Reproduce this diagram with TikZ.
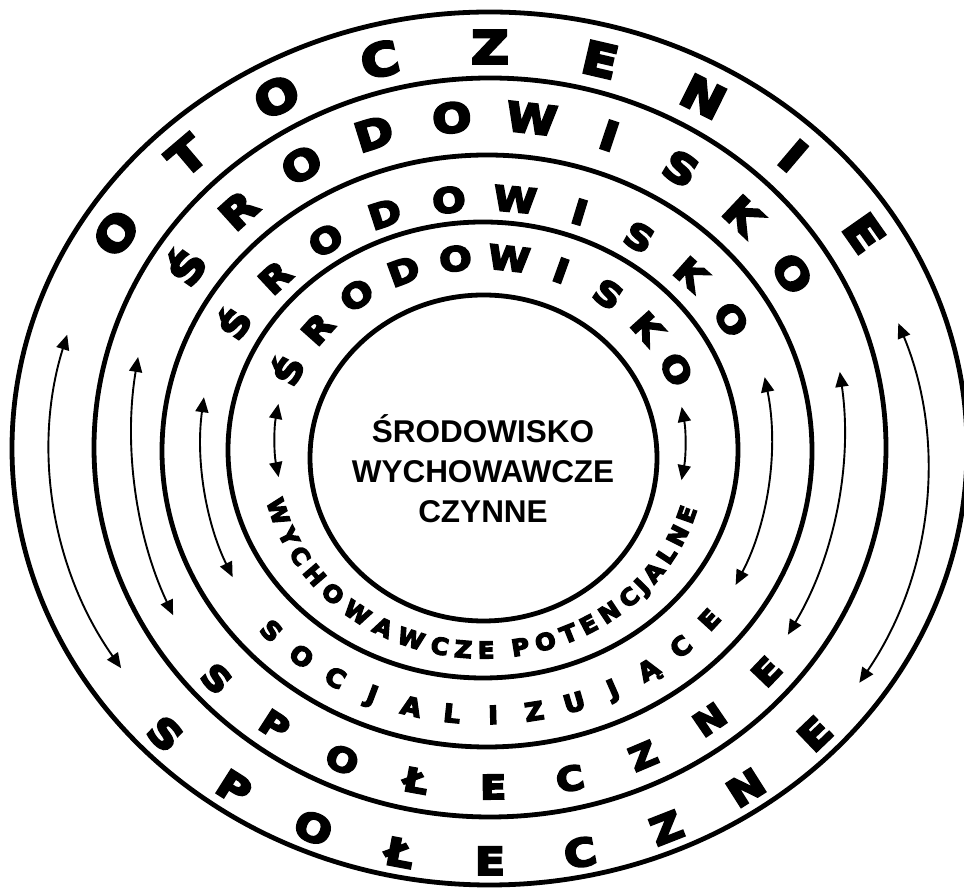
\documentclass[tikz,border=0pt]{standalone}
\usepackage{fontspec}
\setmainfont{Liberation Sans}
\newfontfamily\ringfont{DejaVu Sans Bold}[FakeStretch=1.15,FakeBold=6]
\newfontfamily\ringfontn{DejaVu Sans Bold}[FakeStretch=1.05,FakeBold=6]
\usetikzlibrary{arrows.meta}
\tikzset{
  ring/.style={draw=black, line width=4.8pt},
  flow/.style={draw=black, line width=1.9pt,
    {Triangle[length=15pt,width=13pt]}-{Triangle[length=15pt,width=13pt]}},
  letter/.style={inner sep=0pt, outer sep=0pt, anchor=center},
  core/.style={font=\bfseries\fontsize{31.5}{36}\selectfont, inner sep=0pt, anchor=base},
}
\begin{document}
\begin{tikzpicture}[x=1pt,y=1pt]
\path[use as bounding box] (0,0) rectangle (964,888);
\fill[white] (0,0) rectangle (964,888);
\clip (0,0) rectangle (964,888);
% rings
\draw[ring] (489.5,439.5) ellipse [x radius=477.5, y radius=436.5];
\draw[ring] (490,440.5) ellipse [x radius=396, y radius=369.5];
\draw[ring] (487,437) ellipse [x radius=325, y radius=296];
\draw[ring] (483,438) ellipse [x radius=255, y radius=228];
\draw[ring] (483.5,430) ellipse [x radius=173.5, y radius=163];
% centre text
\node[core] (c1) at (483,445) {ŚRODOWISKO};
\node[core] (c2) at (483,405) {WYCHOWAWCZE};
\node[core] (c3) at (483,365) {CZYNNE};
% ring 1 top
\foreach \l [count=\i from 0] in {O,T,O,C,Z,E,N,I,E}{
  \pgfmathsetmacro\t{147.6-14.4*\i}
  \pgfmathsetmacro\r{atan2(-401*cos(\t),443*sin(\t))}
  \node[letter, rotate=\r, font=\ringfont\fontsize{45}{45}\selectfont] (ra\i) at ({490+443*cos(\t)},{440+401*sin(\t)}) {\vphantom{E}\smash{\l}};
}
% ring 1 bottom
\foreach \l [count=\i from 0] in {S,P,O,Ł,E,C,Z,N,E}{
  \pgfmathsetmacro\t{223.8+11.55*\i}
  \pgfmathsetmacro\r{atan2(413*cos(\t),-450*sin(\t))}
  \node[letter, rotate=\r, font=\ringfont\fontsize{38}{38}\selectfont] (rb\i) at ({490+450*cos(\t)},{440+413*sin(\t)}) {\vphantom{E}\smash{\l}};
}
% ring 2 top
\foreach \l [count=\i from 0] in {Ś,R,O,D,O,W,I,S,K,O}{
  \pgfmathsetmacro\t{147-12.8*\i}
  \pgfmathsetmacro\r{atan2(-333*cos(\t),358*sin(\t))}
  \node[letter, rotate=\r, font=\ringfont\fontsize{40}{40}\selectfont] (rc\i) at ({488+358*cos(\t)},{439+333*sin(\t)}) {\vphantom{E}\smash{\l}};
}
% ring 2 bottom
\foreach \l [count=\i from 0] in {S,P,O,Ł,E,C,Z,N,E}{
  \pgfmathsetmacro\t{222.8+12*\i}
  \pgfmathsetmacro\r{atan2(338*cos(\t),-370*sin(\t))}
  \node[letter, rotate=\r, font=\ringfont\fontsize{33}{33}\selectfont] (rd\i) at ({488+370*cos(\t)},{439+338*sin(\t)}) {\vphantom{E}\smash{\l}};
}
% ring 3 top
\foreach \l [count=\i from 0] in {Ś,R,O,D,O,W,I,S,K,O}{
  \pgfmathsetmacro\t{150-13.2*\i}
  \pgfmathsetmacro\r{atan2(-252*cos(\t),288*sin(\t))}
  \node[letter, rotate=\r, font=\ringfont\fontsize{34}{34}\selectfont] (re\i) at ({485+288*cos(\t)},{438+252*sin(\t)}) {\vphantom{E}\smash{\l}};
}
% ring 3 bottom
\foreach \l [count=\i from 0] in {S,O,C,J,A,L,I,Z,U,J,Ą,C,E}{
  \pgfmathsetmacro\t{223+8.1*\i}
  \pgfmathsetmacro\r{atan2(265*cos(\t),-292*sin(\t))}
  \node[letter, rotate=\r, font=\ringfontn\fontsize{25}{25}\selectfont] (rf\i) at ({485+292*cos(\t)},{438+265*sin(\t)}) {\vphantom{E}\smash{\l}};
}
% ring 4 top
\foreach \l [count=\i from 0] in {Ś,R,O,D,O,W,I,S,K,O}{
  \pgfmathsetmacro\t{155-14.4*\i}
  \pgfmathsetmacro\r{atan2(-197*cos(\t),214*sin(\t))}
  \node[letter, rotate=\r, font=\ringfont\fontsize{33}{33}\selectfont] (rg\i) at ({483+214*cos(\t)},{434+197*sin(\t)}) {\vphantom{E}\smash{\l}};
}
% ring 4 bottom (spaced by letter widths)
\gdef\cum{0}
\foreach \l/\w [count=\i from 0] in {W/1.103,Y/.724,C/.734,H/.838,O/.850,W/1.103,A/.774,W/1.103,C/.734,Z/.725,E/.683,{}/.348,P/.733,O/.850,T/.682,E/.683,N/.838,C/.734,J/.372,A/.774,L/.637,N/.838,E/.683}{
  \pgfmathsetmacro\t{192.2+8.71*(\cum+\w/2)}
  \pgfmathsetmacro\r{atan2(196*cos(\t),-214*sin(\t))}
  \node[letter, rotate=\r, font=\ringfontn\fontsize{23}{23}\selectfont] (rh\i) at ({483+214*cos(\t)},{434+196*sin(\t)}) {\vphantom{E}\smash{\l}};
  \pgfmathsetmacro\tmp{\cum+\w}\xdef\cum{\tmp}
}
% arrows: elliptical arcs between the rings
\foreach \n/\cx/\cy/\a/\b/\ts/\te in {
  a1l/488/441/438/405/163.9/213.1,
  a1r/487/421/440/405/20.8/-32.2,
  a2l/488/458/356/397/169.4/207.8,
  a2r/488/458/356/380/8.8/-32.6,
  a3l/487/448/286/300/171.8/207.2,
  a3r/487/448/284/300/12.1/-28.9,
  a4l/483/448/208/200/169.6/190.7,
  a4r/483/445/202/200/10.4/-10.7}{
  \coordinate (\n) at ({\cx+\a*cos(\ts)},{\cy+\b*sin(\ts)});
  \draw[flow] (\n) arc[start angle=\ts, end angle=\te, x radius=\a, y radius=\b];
}
\end{tikzpicture}
\end{document}
